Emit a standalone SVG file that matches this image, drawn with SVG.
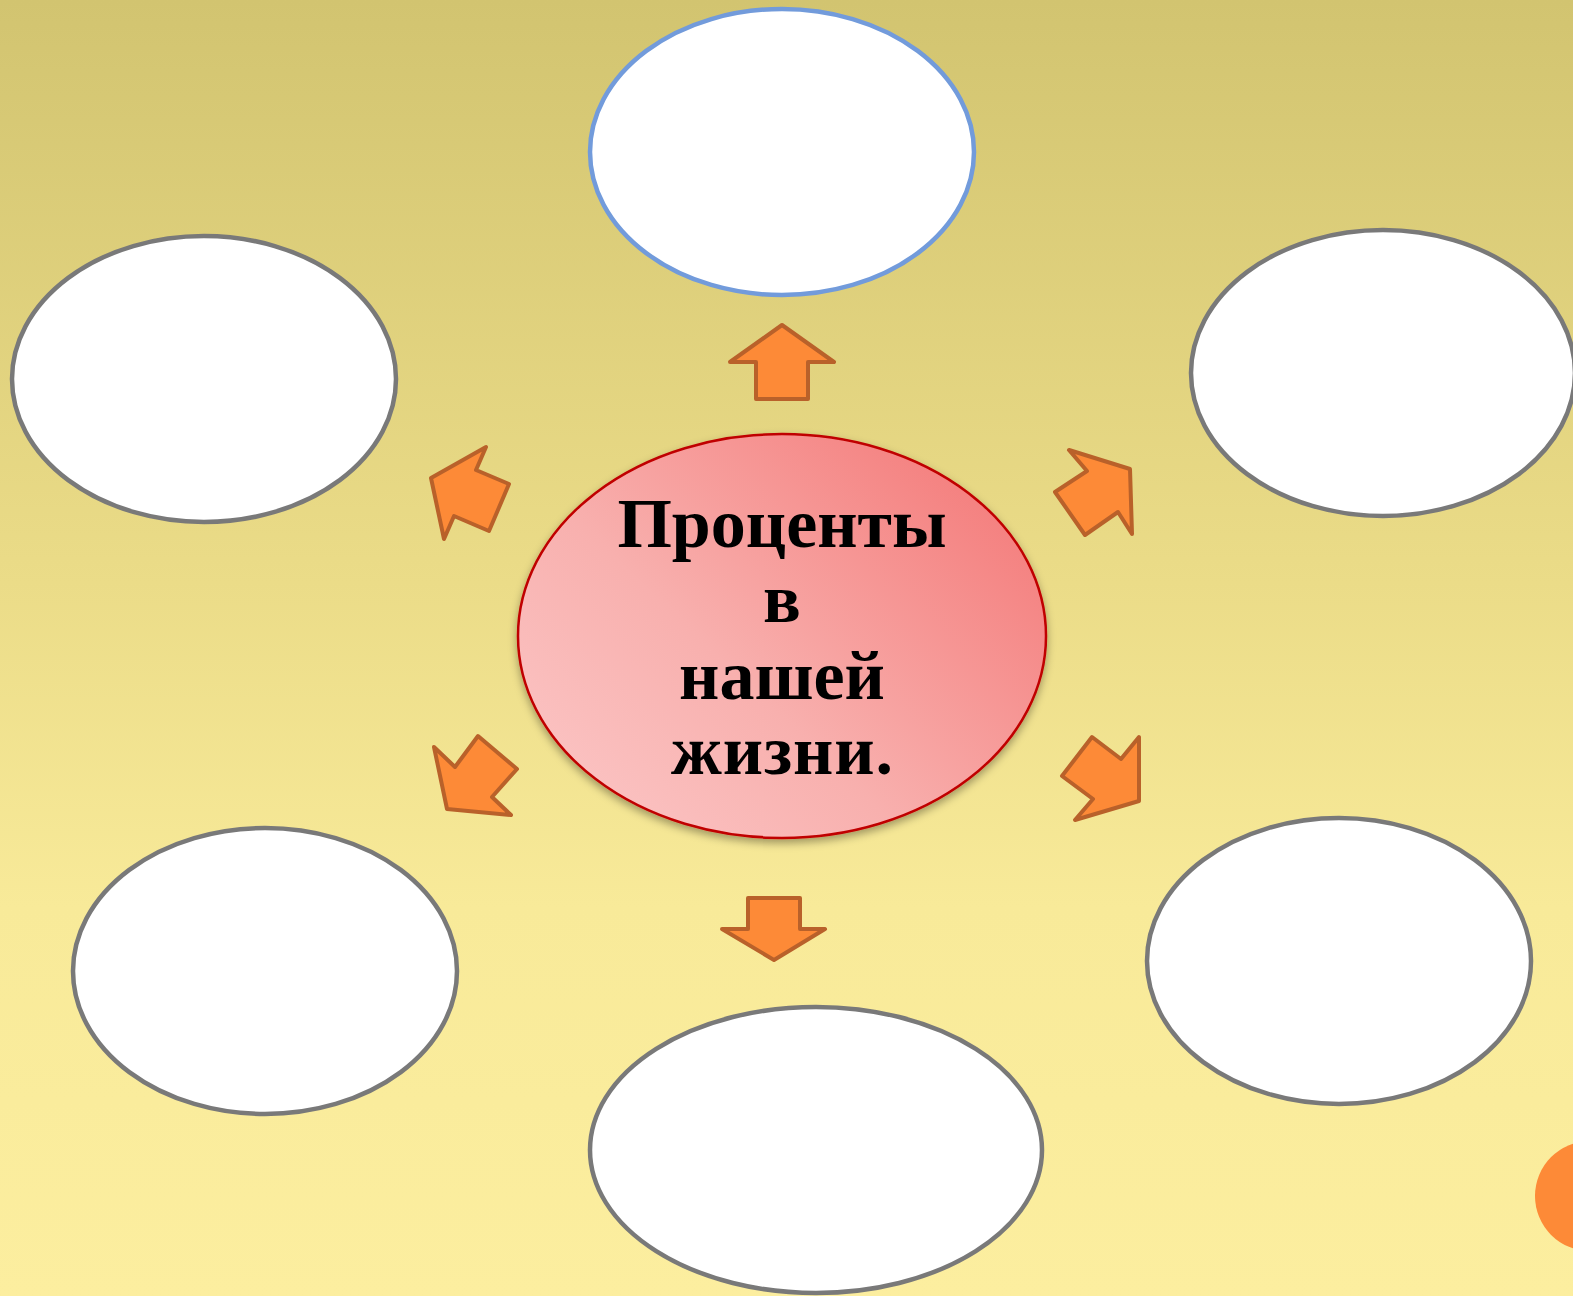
<svg xmlns="http://www.w3.org/2000/svg" width="1573" height="1296" viewBox="0 0 1573 1296">
<defs>
<linearGradient id="bg" x1="0" y1="0" x2="0" y2="1">
<stop offset="0" stop-color="#d2c470"/>
<stop offset="0.45" stop-color="#ebdc88"/>
<stop offset="0.7" stop-color="#f8ea99"/>
<stop offset="1" stop-color="#fcee9f"/>
</linearGradient>
<linearGradient id="pink" x1="0" y1="1" x2="1" y2="0.2">
<stop offset="0" stop-color="#fcc9c9"/>
<stop offset="0.45" stop-color="#f8b0ae"/>
<stop offset="1" stop-color="#f47c7b"/>
</linearGradient>
<filter id="sh" x="-10%" y="-10%" width="120%" height="125%">
<feDropShadow dx="0" dy="4" stdDeviation="4" flood-color="#000" flood-opacity="0.35"/>
</filter>
<style>
.bub{fill:#fff;stroke:#797979;stroke-width:4.5}
.arr{fill:#fd8a37;stroke:#b9612a;stroke-width:4;stroke-linejoin:round}
.t{font-family:"Liberation Serif","Times New Roman",serif;font-weight:bold;font-size:70px;fill:#000;text-anchor:middle}
</style>
</defs>
<rect width="1573" height="1296" fill="url(#bg)"/>
<circle cx="1590" cy="1196" r="55" fill="#fd8a37"/>
<g id="node-top"><ellipse cx="782" cy="152" rx="192" ry="143" fill="#fff" stroke="#729bdb" stroke-width="4.5"/></g>
<g id="node-top-left"><ellipse class="bub" cx="204" cy="379" rx="192" ry="143"/></g>
<g id="node-top-right"><ellipse class="bub" cx="1383" cy="373" rx="192" ry="143"/></g>
<g id="node-bottom-left"><ellipse class="bub" cx="265" cy="971" rx="192" ry="143"/></g>
<g id="node-bottom-right"><ellipse class="bub" cx="1339" cy="961" rx="192" ry="143"/></g>
<g id="node-bottom"><ellipse class="bub" cx="816" cy="1150" rx="226" ry="143"/></g>
<g id="node-center">
<ellipse cx="782" cy="636" rx="264" ry="202" fill="url(#pink)" stroke="#c00000" stroke-width="2.5" filter="url(#sh)"/>
<text class="t" x="782" y="547">Проценты</text>
<text class="t" x="782" y="622">в</text>
<text class="t" x="782" y="699">нашей</text>
<text class="t" x="782" y="774" textLength="222">жизни.</text>
</g>
<g id="connectors">
<polygon class="arr" points="782,325 834,362 808,362 808,399 756,399 756,362 730,362"/>
<polygon class="arr" points="774,960 825,929 800,929 800,898 748,898 748,929 722,929"/>
<polygon class="arr" points="431,478 486,447 476,470 509,484 489,531 454,516 444,539"/>
<polygon class="arr" points="1130,469 1132,534 1118,512 1085,535 1055,492 1087,471 1069,450"/>
<polygon class="arr" points="434,747 455,767 478,736 517,769 492,797 511,815 447,809"/>
<polygon class="arr" points="1139,737 1139,801 1075,820 1093,799 1062,776 1092,737 1121,759"/>
</g>
</svg>
